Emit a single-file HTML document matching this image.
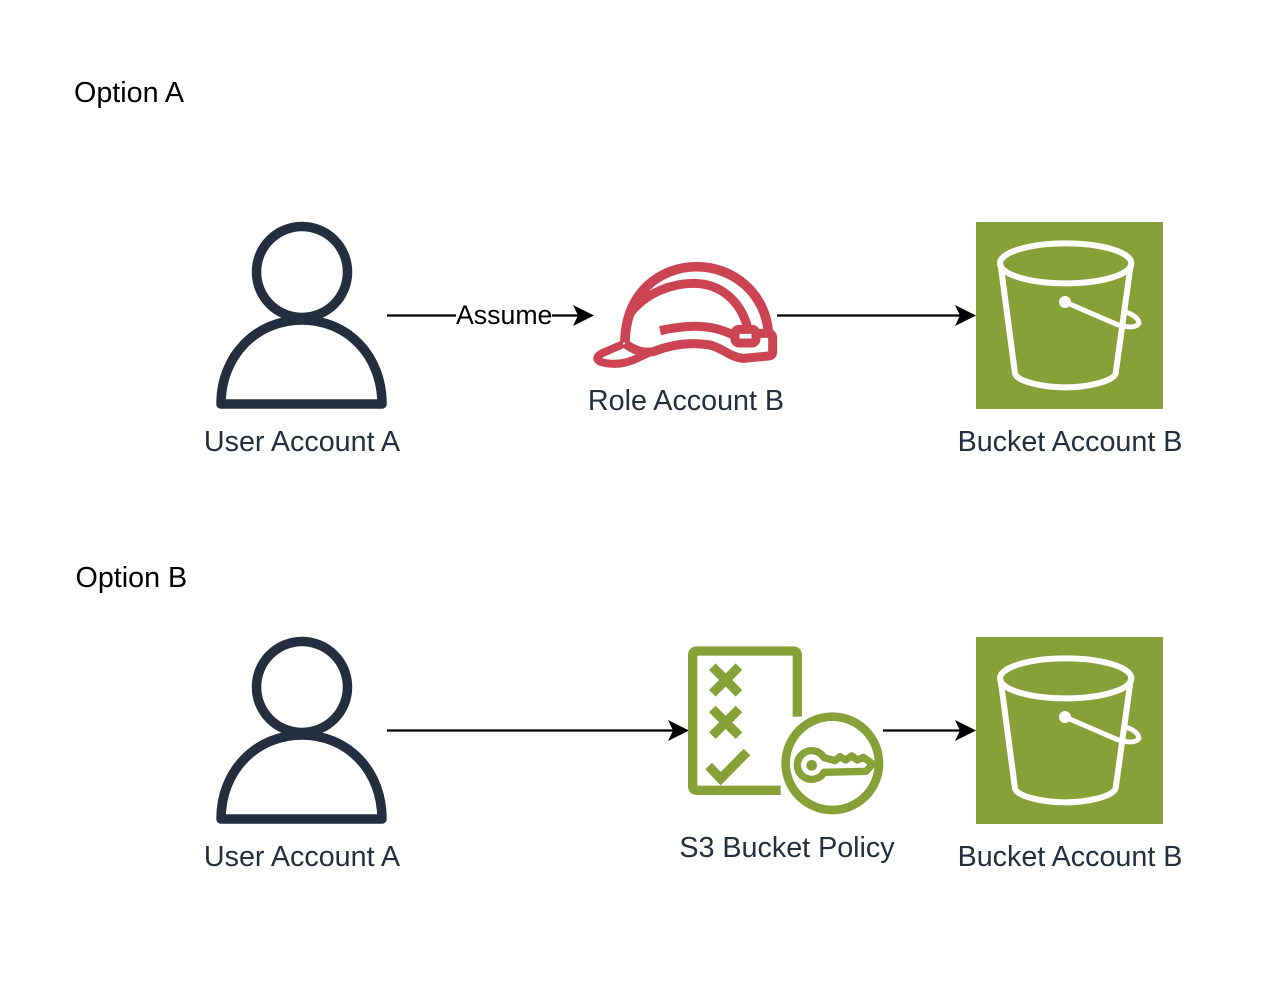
<!DOCTYPE html>
<html>
<head>
<meta charset="utf-8">
<style>
html,body{margin:0;padding:0;background:#fff;}
svg{display:block;}
text{font-family:"Liberation Sans",sans-serif;font-size:28.700px;}
.l{fill:#232F3E;text-anchor:middle;}
.o{fill:#000;}
.c{fill:none;stroke:#000;stroke-width:2.200;}
</style>
</head>
<body>
<svg width="1264" height="1002" viewBox="0 0 1264 1002" xmlns="http://www.w3.org/2000/svg">
<defs>
<g id="user" fill="none" stroke="#232F3E" stroke-linejoin="round">
  <circle cx="302" cy="272" r="45.500" stroke-width="9.500"/>
  <path d="M221,404 C221,356 256,320 302,320 C348,320 382,356 382,404 Z" stroke-width="9.500"/>
</g>
<g id="bucket">
  <rect x="976" y="222" width="187" height="187" fill="#86A137"/>
  <g transform="translate(970,215) scale(0.33333)" fill="none" stroke="#fff" stroke-width="18" stroke-linejoin="round" stroke-linecap="round">
    <ellipse cx="287" cy="145" rx="197" ry="60"/>
    <path d="M92,150 L135,475 C140,500 220,517 287,517 C350,517 430,500 437,475 L482,150"/>
    <path d="M285,261 L440,328 Q495,345 507,325 Q505,305 470,292" stroke-width="15"/>
    <circle cx="285" cy="261" r="15" fill="#fff" stroke-width="6"/>
  </g>
</g>
<path id="head" d="M0,0 L-21,-10.500 L-16,0 L-21,10.500 Z" fill="#000"/>
</defs>

<text class="o" x="74" y="102">Option A</text>
<text class="o" x="75.500" y="587">Option B</text>

<!-- Option A -->
<use href="#user"/>
<text class="l" x="302" y="451">User Account A</text>

<line class="c" x1="387" y1="315.500" x2="456" y2="315.500"/>
<line class="c" x1="552" y1="315.500" x2="578" y2="315.500"/>
<use href="#head" x="594" y="315.500"/>
<text x="456" y="324" style="font-size:26.700px" class="o">Assume</text>

<g transform="translate(580,250) scale(0.33333)" fill="none" stroke="#CC4452" stroke-width="29" stroke-linejoin="round">
  <path d="M135,278 C135,130 240,50 350,50 C460,50 555,130 565,245"/>
  <path d="M150,190 C200,125 280,100 340,100 C420,100 480,150 503,232" stroke-width="27"/>
  <path d="M240,242 C320,225 390,220 460,255" stroke-width="27"/>
  <path d="M135,280 C160,300 190,310 220,305 C270,285 330,275 390,285 C430,295 450,322 490,325 L565,318 Q578,318 578,305 L578,265 Q578,250 565,250 L530,250" stroke-width="27"/>
  <rect x="465" y="238" width="63" height="41" rx="12" stroke-width="27"/>
  <path d="M130,282 L70,308 Q40,322 60,335 Q110,350 160,330 L215,305" stroke-width="24"/>
</g>
<text class="l" x="686" y="410">Role Account B</text>

<line class="c" x1="777" y1="315.500" x2="960" y2="315.500"/>
<use href="#head" x="976" y="315.500"/>
<use href="#bucket"/>
<text class="l" x="1070" y="451">Bucket Account B</text>

<!-- Option B -->
<use href="#user" y="415"/>
<text class="l" x="302" y="866">User Account A</text>

<line class="c" x1="387" y1="730.500" x2="673" y2="730.500"/>
<use href="#head" x="689" y="730.500"/>

<g transform="translate(680,640) scale(0.33333)" fill="none" stroke="#86A137" stroke-width="28">
  <path d="M302,451 L50,451 Q38,451 38,438 L38,45 Q38,33 50,33 L340,33 Q352,33 352,45 L352,230"/>
  <path d="M97,80 L177,160 M177,80 L97,160"/>
  <path d="M97,207 L177,287 M177,207 L97,287"/>
  <path d="M86,378 L122,416 L201,336"/>
  <circle cx="457" cy="370" r="140" stroke-width="26"/>
  <path d="M432,353 A43,43 0 1 0 432,397 L558,394 L578,372 L550,352 L532,360 L515,348 L497,360 L480,350 L465,362 Z" stroke-width="22" stroke-linejoin="round"/>
  <circle cx="395" cy="376" r="16" fill="#86A137" stroke="none"/>
</g>
<text class="l" x="787" y="857">S3 Bucket Policy</text>

<line class="c" x1="883" y1="730.500" x2="960" y2="730.500"/>
<use href="#head" x="976" y="730.500"/>
<use href="#bucket" y="415"/>
<text class="l" x="1070" y="866">Bucket Account B</text>
</svg>
</body>
</html>
